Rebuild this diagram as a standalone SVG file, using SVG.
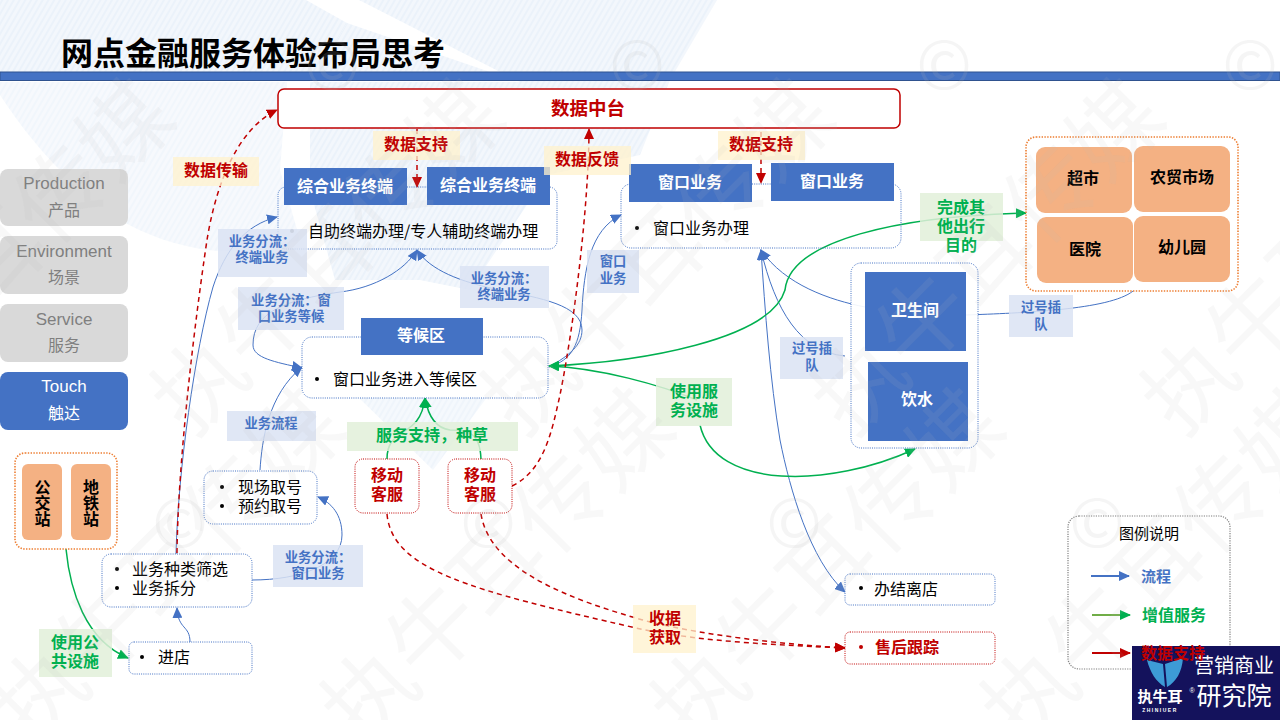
<svg xmlns="http://www.w3.org/2000/svg" width="1280" height="720" viewBox="0 0 1280 720">
<defs>
<style>
text{font-family:"Noto Sans CJK SC","Liberation Sans",sans-serif;text-anchor:middle}
.wm{font-size:90px;fill:#bbb;fill-opacity:.1}
.cr{font-size:67px;fill:#bbb;fill-opacity:.14;font-family:"Liberation Sans",sans-serif}
.blue{fill:#4472c4}
.wb{fill:#fff;font-size:16px;font-weight:700}
.node{fill:#fff;fill-opacity:.92;stroke:#4472c4;stroke-width:1;stroke-dasharray:1 1.2}
.nodet{fill:none;stroke:#4472c4;stroke-width:1;stroke-dasharray:1 1.2}
.red{fill:#fff;stroke:#c00000;stroke-width:1;stroke-dasharray:1 1.2}
.org{fill:#fff;fill-opacity:.6;stroke:#ed7d31;stroke-width:1.6;stroke-dasharray:1.4 1.4}
.peach{fill:#f4b183}
.t{font-size:16px;fill:#000;text-anchor:start}
.blk{font-size:16px;fill:#000;font-weight:700}
.side{fill:#d9d9d9}
.sidet{font-size:16px;fill:#7f7f7f}
.lat{font-size:17px;font-family:"Liberation Sans",sans-serif}
.lb{fill:#dae3f3;fill-opacity:.85}
.lbt{font-size:13.3px;fill:#4472c4;font-weight:700}
.lg{fill:#e2f0d9;fill-opacity:.85}
.lgt{font-size:16px;fill:#00b050;font-weight:700}
.ly{fill:#fff2cc;fill-opacity:.75}
.lyt{font-size:16px;fill:#c00000;font-weight:700}
.c{fill:none;stroke:#4472c4;stroke-width:1}
.g{fill:none;stroke:#00b050;stroke-width:1.5}
.r{fill:none;stroke:#c00000;stroke-width:1.5;stroke-dasharray:5 4}
</style>
<pattern id="hatch" patternUnits="userSpaceOnUse" width="5" height="5" patternTransform="rotate(-60)"><rect width="5" height="5" fill="#f3f7fc"/><path d="M0 2H5" stroke="#e7eff9" stroke-width="1.2"/></pattern>
<marker id="ab" markerUnits="userSpaceOnUse" markerWidth="12" markerHeight="10" refX="10" refY="5" orient="auto-start-reverse"><path d="M0 0L11 5L0 10Z" fill="#4472c4"/></marker>
<marker id="ag" markerUnits="userSpaceOnUse" markerWidth="12" markerHeight="10" refX="10" refY="5" orient="auto-start-reverse"><path d="M0 0L11 5L0 10Z" fill="#00b050"/></marker>
<marker id="ar" markerUnits="userSpaceOnUse" markerWidth="12" markerHeight="10" refX="10" refY="5" orient="auto-start-reverse"><path d="M0 0L11 5L0 10Z" fill="#c00000"/></marker>
</defs>
<rect width="1280" height="720" fill="#fff"/>
<g id="background" fill="url(#hatch)">
<path d="M0 0H306L347 23L318 72H0Z"/>
<path d="M347 23L318 72H490Z"/>
<path d="M359 0H717L670 80L640 155L547 175L470 290L420 280L335 280L310 190L310 82H520Z"/>
<path d="M0 82H287L280 170L300 240C220 270 120 240 60 170C30 140 10 110 0 95Z" opacity=".7"/>
<path d="M357 396L433 470L488 396Z" opacity=".8"/>
</g>
<g id="header">
<text x="253" y="65" style="font-size:32px;fill:#000;font-weight:700">网点金融服务体验布局思考</text>
<rect x="0" y="72" width="1280" height="8.500" fill="#4472c4" stroke="#2f528f" stroke-width="1"/>
</g>
<g id="connectors">
<path class="c" d="M176 554C178 470 195 350 213 287C225 250 245 225 277 217" marker-end="url(#ab)"/>
<path class="c" d="M260 470C262 440 268 395 302 367" marker-end="url(#ab)"/>
<path class="c" d="M252 580C300 580 342 565 342 535C342 515 332 503 318 497" marker-end="url(#ab)"/>
<path class="c" d="M190 642C190 625 178 630 177 608" marker-end="url(#ab)"/>
<path class="c" d="M253 345C253 312 285 300 340 292C375 288 405 270 417 250" marker-end="url(#ab)"/>
<path class="c" d="M253 345C253 358 275 362 302 368" marker-end="url(#ab)"/>
<path class="c" d="M549 367C570 355 582 345 582 330C582 305 540 298 500 290C460 282 430 270 417 250" marker-end="url(#ab)"/>
<path class="c" d="M549 367C572 360 580 345 582 310C584 270 590 230 621 215" marker-end="url(#ab)"/>
<path class="c" d="M865 307C830 300 785 285 761 250" marker-end="url(#ab)"/>
<path class="c" d="M845 356C800 352 775 310 761 250" marker-end="url(#ab)"/>
<path class="c" d="M845 592C810 560 790 490 780 440C770 380 765 310 761 250" marker-start="url(#ab)" marker-end="url(#ab)"/>
<path class="c" d="M966 315C1020 313 1110 310 1133 291"/>
<path class="g" d="M549 366C640 362 770 340 785 290C790 240 900 216 1026 213" marker-start="url(#ag)" marker-end="url(#ag)"/>
<path class="g" d="M549 366C600 368 660 385 697 400" marker-start="url(#ag)"/>
<path class="g" d="M700 425C715 490 830 488 915 449" marker-end="url(#ag)"/>
<path class="g" d="M66 549C70 590 85 640 128 658" marker-end="url(#ag)"/>
<path class="g" d="M387 459C387 425 420 440 425 398" marker-end="url(#ag)"/>
<path class="g" d="M481 459C480 430 465 430 450 430C435 428 428 415 425 398" marker-end="url(#ag)"/>
<path class="r" d="M177 553C178 460 195 320 207 240C215 190 235 130 277 110" marker-end="url(#ar)"/>
<path class="r" d="M512 486C545 470 552 430 560 395C575 320 589 200 589 129" marker-end="url(#ar)"/>
<path class="r" d="M417 129V187" marker-end="url(#ar)"/>
<path class="r" d="M761 132V183" marker-end="url(#ar)"/>
<path class="r" d="M387 514C392 570 470 590 636 628C700 642 780 645 845 648" marker-end="url(#ar)"/>
<path class="r" d="M481 514C490 570 570 600 650 622C710 636 780 644 845 648" marker-end="url(#ar)"/>
</g>
<g id="layer-touch"><rect x="0" y="372" width="128" height="58" rx="8" class="blue"/><text x="64" y="392" class="lat" style="fill:#fff">Touch</text><text x="64" y="419" style="font-size:16px;fill:#fff">触达</text></g>
<g id="layer-production"><rect x="0" y="169" width="128" height="57" rx="8" class="side"/><text x="64" y="189" class="sidet lat">Production</text><text x="64" y="216" class="sidet">产品</text></g>
<g id="layer-environment"><rect x="0" y="236" width="128" height="58" rx="8" class="side"/><text x="64" y="257" class="sidet lat">Environment</text><text x="64" y="283" class="sidet">场景</text></g>
<g id="layer-service"><rect x="0" y="304" width="128" height="58" rx="8" class="side"/><text x="64" y="325" class="sidet lat">Service</text><text x="64" y="351" class="sidet">服务</text></g>
<g id="data-platform"><rect x="278" y="89" width="622" height="39" rx="6" fill="#fff" stroke="#c00000" stroke-width="1.5"/><text x="588" y="115" style="font-size:18.5px;fill:#c00000;font-weight:700">数据中台</text></g>
<g id="terminal-group"><rect x="278" y="187" width="279" height="62" rx="8" class="nodet"/><rect x="284" y="168" width="123" height="37" class="blue"/><text x="345" y="192" class="wb">综合业务终端</text><rect x="427" y="167" width="123" height="38" class="blue"/><text x="488" y="191" class="wb">综合业务终端</text><circle cx="292" cy="231" r="2" fill="#777"/><text x="308" y="237" class="t">自助终端办理/专人辅助终端办理</text></g>
<g id="window-group"><rect x="621" y="184" width="280" height="64" rx="10" class="nodet"/><rect x="629" y="164" width="123" height="38" class="blue"/><text x="690" y="188" class="wb">窗口业务</text><rect x="771" y="163" width="123" height="38" class="blue"/><text x="832" y="187" class="wb">窗口业务</text><circle cx="637" cy="228" r="2" fill="#000"/><text x="653" y="234" class="t">窗口业务办理</text></g>
<g id="waiting"><rect x="302" y="337" width="246" height="61" rx="10" class="node"/><rect x="361" y="318" width="122" height="37" class="blue"/><text x="421" y="341" class="wb">等候区</text><circle cx="317" cy="379" r="2" fill="#000"/><text x="333" y="385" class="t">窗口业务进入等候区</text></g>
<g id="facilities"><rect x="851" y="263" width="127" height="185" rx="10" class="node"/><rect x="865" y="272" width="101" height="79" class="blue"/><text x="915" y="316" class="wb">卫生间</text><rect x="868" y="362" width="100" height="79" class="blue"/><text x="917" y="405" class="wb">饮水</text></g>
<g id="destinations"><rect x="1026" y="137" width="212" height="154" rx="10" class="org"/><rect x="1036" y="147" width="96" height="66" rx="9" class="peach"/><text x="1083" y="184" class="blk">超市</text><rect x="1134" y="146" width="96" height="66" rx="9" class="peach"/><text x="1182" y="183" class="blk">农贸市场</text><rect x="1037" y="217" width="96" height="66" rx="9" class="peach"/><text x="1085" y="255" class="blk">医院</text><rect x="1134" y="216" width="96" height="66" rx="9" class="peach"/><text x="1182" y="253" class="blk">幼儿园</text></g>
<g id="transit"><rect x="15" y="453" width="102" height="96" rx="10" class="org"/><rect x="22" y="464" width="40" height="76" rx="6" class="peach"/><rect x="71" y="464" width="40" height="76" rx="6" class="peach"/><text x="42.500" y="493" class="blk">公</text><text x="42.500" y="509" class="blk">交</text><text x="42.500" y="525" class="blk">站</text><text x="91" y="493" class="blk">地</text><text x="91" y="509" class="blk">铁</text><text x="91" y="525" class="blk">站</text></g>
<g id="ticket"><rect x="204" y="471" width="113" height="53" rx="9" class="node"/><circle cx="222" cy="487" r="2" fill="#000"/><circle cx="222" cy="506" r="2" fill="#000"/><text x="238" y="493" class="t">现场取号</text><text x="238" y="512" class="t">预约取号</text></g>
<g id="filter"><rect x="102" y="554" width="150" height="53" rx="9" class="node"/><circle cx="117" cy="569" r="2" fill="#000"/><circle cx="117" cy="588" r="2" fill="#000"/><text x="132" y="575" class="t">业务种类筛选</text><text x="132" y="594" class="t">业务拆分</text></g>
<g id="enter"><rect x="129" y="642" width="123" height="32" rx="5" class="node"/><circle cx="142" cy="657" r="2" fill="#000"/><text x="158" y="663" class="t">进店</text></g>
<g id="leave"><rect x="845" y="574" width="150" height="31" rx="5" class="node"/><circle cx="861" cy="588" r="2" fill="#000"/><text x="874" y="595" class="t">办结离店</text></g>
<g id="aftersale"><rect x="845" y="632" width="150" height="32" rx="5" class="red"/><circle cx="861" cy="647" r="2" fill="#c00000"/><text x="875" y="653" class="t" style="fill:#c00000;font-weight:700">售后跟踪</text></g>
<g id="agent1"><rect x="355" y="459" width="64" height="54" rx="8" class="red"/><text x="387" y="481" class="lyt">移动</text><text x="387" y="500" class="lyt">客服</text></g>
<g id="agent2"><rect x="448" y="459" width="64" height="54" rx="8" class="red"/><text x="480" y="481" class="lyt">移动</text><text x="480" y="500" class="lyt">客服</text></g>
<g id="labels">
<rect x="173" y="157" width="86" height="29" class="ly"/><text x="216" y="176" class="lyt">数据传输</text>
<rect x="373" y="131" width="87" height="29" class="ly"/><text x="416" y="150" class="lyt">数据支持</text>
<rect x="544" y="146" width="87" height="29" class="ly"/><text x="587" y="165" class="lyt">数据反馈</text>
<rect x="718" y="131" width="87" height="29" class="ly"/><text x="761" y="150" class="lyt">数据支持</text>
<rect x="633" y="605" width="63" height="48" class="ly"/><text x="665" y="624" class="lyt">收据</text><text x="665" y="643" class="lyt">获取</text>
<rect x="218" y="229" width="89" height="48" class="lb"/><text x="262" y="246" class="lbt">业务分流：</text><text x="262" y="262" class="lbt">终端业务</text>
<rect x="238" y="287" width="106" height="43" class="lb"/><text x="291" y="305" class="lbt">业务分流：窗</text><text x="291" y="321" class="lbt">口业务等候</text>
<rect x="460" y="266" width="89" height="42" class="lb"/><text x="504" y="283" class="lbt">业务分流：</text><text x="504" y="299" class="lbt">终端业务</text>
<rect x="587" y="250" width="52" height="43" class="lb"/><text x="613" y="266" class="lbt">窗口</text><text x="613" y="283" class="lbt">业务</text>
<rect x="227" y="411" width="89" height="30" class="lb"/><text x="271" y="428" class="lbt">业务流程</text>
<rect x="273" y="545" width="90" height="42" class="lb"/><text x="318" y="562" class="lbt">业务分流：</text><text x="318" y="578" class="lbt">窗口业务</text>
<rect x="780" y="337" width="63" height="42" class="lb"/><text x="812" y="353" class="lbt">过号插</text><text x="812" y="370" class="lbt">队</text>
<rect x="1009" y="295" width="64" height="42" class="lb"/><text x="1041" y="312" class="lbt">过号插</text><text x="1041" y="329" class="lbt">队</text>
<rect x="347" y="422" width="171" height="29" class="lg"/><text x="432" y="441" class="lgt">服务支持，种草</text>
<rect x="920" y="193" width="83" height="48" class="lg"/><text x="961" y="213" class="lgt">完成其</text><text x="961" y="232" class="lgt">他出行</text><text x="961" y="251" class="lgt">目的</text>
<rect x="656" y="378" width="76" height="48" class="lg"/><text x="694" y="397" class="lgt">使用服</text><text x="694" y="416" class="lgt">务设施</text>
<rect x="39" y="629" width="73" height="48" class="lg"/><text x="75" y="648" class="lgt">使用公</text><text x="75" y="667" class="lgt">共设施</text>
</g>
<g id="legend">
<rect x="1068" y="516" width="162" height="153" rx="11" fill="none" stroke="#7f7f7f" stroke-width="1.2" stroke-dasharray="1.2 1.2"/>
<text x="1149" y="539" style="font-size:15px;fill:#000">图例说明</text>
<path d="M1091 576H1129" stroke="#4472c4" stroke-width="2" marker-end="url(#ab)"/><text x="1156" y="582" style="font-size:15px;fill:#4472c4;font-weight:700">流程</text>
<path d="M1092 615H1130" stroke="#70ad47" stroke-width="2" marker-end="url(#ag)"/><text x="1174" y="621" style="font-size:16px;fill:#00b050;font-weight:700">增值服务</text>
<path d="M1092 653H1130" stroke="#c00000" stroke-width="2" marker-end="url(#ar)"/>
</g>
<g id="logo">
<rect x="1132" y="646" width="148" height="74" fill="#14125c"/>
<path d="M1147 660L1163 664L1165 687C1156 682 1150 672 1147 660ZM1167 687L1165 664L1183 658C1182 672 1176 682 1167 687Z" fill="#3d9bd6"/>
<text x="1160" y="702" style="font-size:15px;fill:#fff;font-weight:700">执牛耳</text>
<text x="1160" y="712" style="font-size:5px;fill:#fff;font-family:'Liberation Sans',sans-serif;font-weight:700;letter-spacing:1.500px">ZHINIUER</text>
<text x="1192" y="693" style="font-size:7px;fill:#fff;font-family:'Liberation Sans',sans-serif">®</text>
<text x="1234" y="673" style="font-size:20px;fill:#fff">营销商业</text>
<text x="1234" y="705" style="font-size:25px;fill:#fff">研究院</text>
<text x="1173" y="659" style="font-size:16px;fill:#c00000;font-weight:700">数据支持</text>
</g>
<g id="watermark">
<g class="wm">
<text transform="translate(20 280) rotate(-45)">执牛耳传媒</text>
<text transform="translate(350 280) rotate(-45)">执牛耳传媒</text>
<text transform="translate(680 280) rotate(-45)">执牛耳传媒</text>
<text transform="translate(1010 280) rotate(-45)">执牛耳传媒</text>
<text transform="translate(1340 280) rotate(-45)">执牛耳传媒</text>
<text transform="translate(190 590) rotate(-45)">执牛耳传媒</text>
<text transform="translate(520 590) rotate(-45)">执牛耳传媒</text>
<text transform="translate(850 590) rotate(-45)">执牛耳传媒</text>
<text transform="translate(1180 590) rotate(-45)">执牛耳传媒</text>
</g>
<g class="cr">
<text x="180" y="547">©</text><text x="488" y="547">©</text><text x="794" y="547">©</text><text x="1097" y="547">©</text>
<text x="332" y="89">©</text><text x="637" y="89">©</text><text x="944" y="89">©</text><text x="1250" y="89">©</text>
</g>
</g>
</svg>
